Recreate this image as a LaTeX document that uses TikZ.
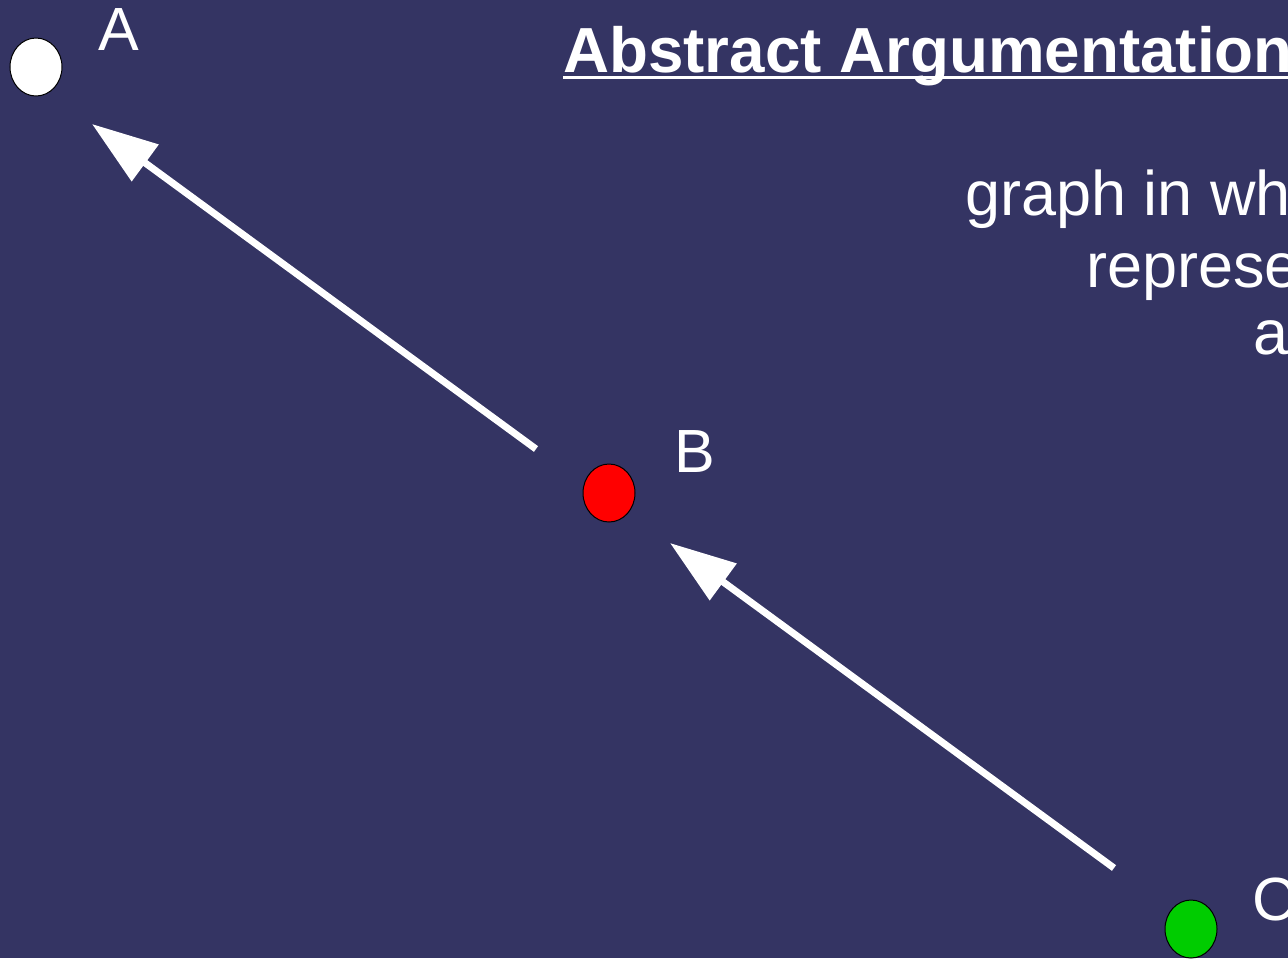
\documentclass[tikz,border=0pt]{standalone}
\usepackage{fontspec}
\setmainfont{Liberation Sans}
\usetikzlibrary{arrows.meta,shapes.geometric}
\definecolor{bg}{HTML}{343463}
\definecolor{cgreen}{HTML}{00CC00}
\tikzset{
  arg/.style={ellipse,draw=black,line width=0.75pt,inner sep=0pt,minimum width=39pt,minimum height=43.5pt},
  lbl/.style={anchor=base west,inner sep=0pt,text=white,font=\fontsize{45.75pt}{55pt}\selectfont},
  body/.style={anchor=base west,inner sep=0pt,text=white,font=\fontsize{47.25pt}{56pt}\selectfont},
  attack/.style={white,line width=5.25pt,-{Triangle[length=49.5pt,width=33pt]}},
}
\begin{document}
\begin{tikzpicture}[x=0.75pt,y=-0.75pt]
\useasboundingbox (0,0) rectangle (1288,958);
\clip (0,0) rectangle (1288,958);
\fill[bg] (0,0) rectangle (1288,958);
% title
\node[anchor=base west,inner sep=0pt,text=white,font=\bfseries\fontsize{47.8pt}{58pt}\selectfont] (title) at (563,72) {Abstract Argumentation};
\draw[white,line width=2.25pt] ([yshift=-4.4pt]title.base west) -- ([yshift=-4.4pt]title.base east);
% body text (cut at the right edge)
\node[body] (l1) at (965,215) {graph in which};
\node[body] (l2) at (1086,287) {represent};
\node[body] (l3) at (1253,354) {and};
% arguments
\node[arg,fill=white] (A) at (36,67) {};
\node[arg,fill=red] (B) at (609,493) {};
\node[arg,fill=cgreen] (C) at (1191,929) {};
\node[lbl] (lA) at (98,50) {A};
\node[lbl] (lB) at (674,472) {B};
\node[lbl] (lC) at (1252,920) {C};
% attacks
\coordinate (bs) at (536,449);
\coordinate (at) at (92,124);
\coordinate (cs) at (1114,868);
\coordinate (bt) at (670,543);
\draw[attack] (bs) -- (at);
\draw[attack] (cs) -- (bt);
\end{tikzpicture}
\end{document}
